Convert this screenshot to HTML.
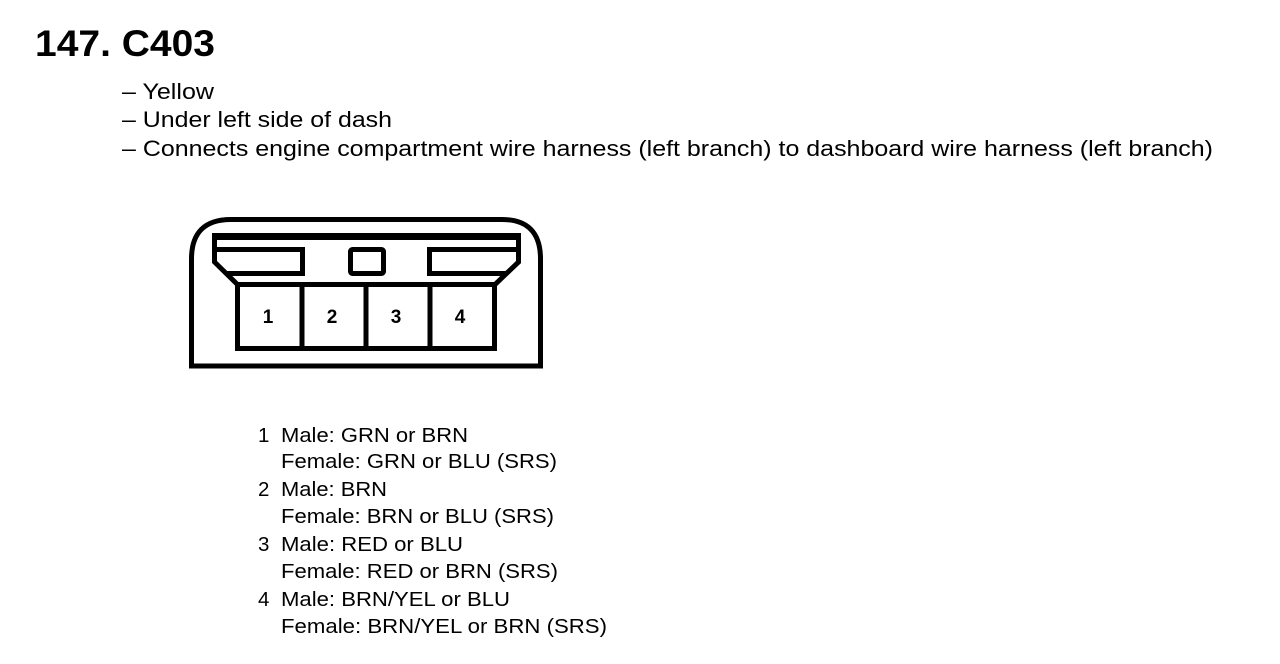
<!DOCTYPE html>
<html><head><meta charset="utf-8"><style>
html,body{margin:0;padding:0;background:#fff}
svg{display:block}
text{font-family:"Liberation Sans",Arial,sans-serif;fill:#000}
</style></head><body>
<svg width="1280" height="664" viewBox="0 0 1280 664" xmlns="http://www.w3.org/2000/svg">
<text x="35" y="56" font-size="37" font-weight="bold" textLength="180" lengthAdjust="spacingAndGlyphs">147. C403</text>
<text x="122" y="99" font-size="22" textLength="92" lengthAdjust="spacingAndGlyphs">– Yellow</text>
<text x="122" y="127" font-size="22" textLength="270" lengthAdjust="spacingAndGlyphs">– Under left side of dash</text>
<text x="122" y="156" font-size="22" textLength="1091" lengthAdjust="spacingAndGlyphs">– Connects engine compartment wire harness (left branch) to dashboard wire harness (left branch)</text>

<g fill="none" stroke="#000" stroke-width="5" stroke-linejoin="miter">
<path d="M191.5,366 V259 Q191.5,219.5 231,219.5 H502 Q540.5,219.5 540.5,259 V366 Z"/>
<path d="M214.5,262 V237.5 H518.5 V262 L495,284.5 H237.5 Z" />
<line x1="212" y1="235.5" x2="521" y2="235.5" stroke-width="5"/>
<rect x="237.5" y="284.5" width="257" height="64"/>
<line x1="302" y1="284" x2="302" y2="349"/>
<line x1="366" y1="284" x2="366" y2="349"/>
<line x1="430" y1="284" x2="430" y2="349"/>
<path d="M214.5,249.5 H302.5 V273.5 H225.5"/>
<path d="M518.5,249.5 H429.5 V273.5 H507.5"/>
<rect x="350.5" y="249.5" width="33" height="24" rx="2"/>
</g>
<g font-size="19" font-weight="bold" text-anchor="middle">
<text x="268" y="323">1</text>
<text x="332" y="323">2</text>
<text x="396" y="323">3</text>
<text x="460" y="323">4</text>
</g>

<g font-size="20.5">
<text x="258" y="442">1</text>
<text x="281" y="442" textLength="187" lengthAdjust="spacingAndGlyphs">Male: GRN or BRN</text>
<text x="281" y="468" textLength="276" lengthAdjust="spacingAndGlyphs">Female: GRN or BLU (SRS)</text>
<text x="258" y="496">2</text>
<text x="281" y="496" textLength="106" lengthAdjust="spacingAndGlyphs">Male: BRN</text>
<text x="281" y="523" textLength="273" lengthAdjust="spacingAndGlyphs">Female: BRN or BLU (SRS)</text>
<text x="258" y="551">3</text>
<text x="281" y="551" textLength="182" lengthAdjust="spacingAndGlyphs">Male: RED or BLU</text>
<text x="281" y="578" textLength="277" lengthAdjust="spacingAndGlyphs">Female: RED or BRN (SRS)</text>
<text x="258" y="606">4</text>
<text x="281" y="606" textLength="229" lengthAdjust="spacingAndGlyphs">Male: BRN/YEL or BLU</text>
<text x="281" y="633" textLength="326" lengthAdjust="spacingAndGlyphs">Female: BRN/YEL or BRN (SRS)</text>
</g>
</svg>
</body></html>
